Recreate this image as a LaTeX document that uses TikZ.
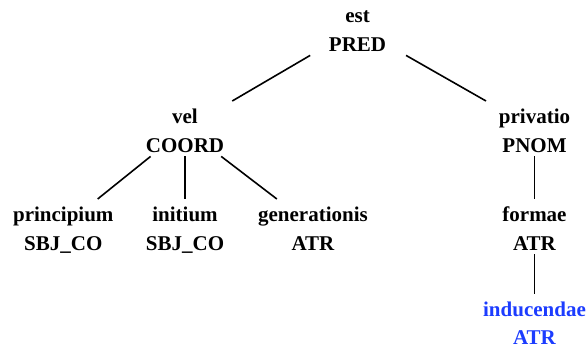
\documentclass[tikz,border=0pt]{standalone}
\usepackage{fontspec}
\setmainfont{Liberation Serif}
\definecolor{hiblue}{RGB}{28,60,255}
\newcommand{\twoline}[2]{\rule{0pt}{22pt}#1\\#2\rule[-4pt]{0pt}{4pt}}
\newcommand{\twolinelast}[2]{\rule{0pt}{22pt}#1\\#2}
\begin{document}
\begin{tikzpicture}[x=1pt,y=-1pt,
  tnode/.style={anchor=north,inner sep=0pt,minimum width=130pt,align=center,
    font=\fontsize{21}{29}\selectfont\bfseries},
  lastnode/.style={tnode,font=\fontsize{21}{28}\selectfont\bfseries},
  edge/.style={draw=black,line width=1.6pt}]
\useasboundingbox (0,0) rectangle (587,349);
\node[tnode] (est) at (357.5,0) {\twoline{est}{PRED}};
\node[tnode] (vel) at (185,101) {\twoline{vel}{COORD}};
\node[tnode] (privatio) at (534.5,101) {\twoline{privatio}{PNOM}};
\node[tnode] (principium) at (63.3,199) {\twoline{principium}{SBJ\_CO}};
\node[tnode] (initium) at (185,199) {\twoline{initium}{SBJ\_CO}};
\node[tnode] (generationis) at (313,199) {\twoline{generationis}{ATR}};
\node[tnode] (formae) at (534.5,199) {\twoline{formae}{ATR}};
\node[lastnode,text=hiblue] (inducendae) at (534.5,294) {\twolinelast{inducendae}{ATR}};
\draw[edge] (est) -- (vel);
\draw[edge] (est) -- (privatio);
\draw[edge] (vel) -- (principium);
\draw[edge] (vel) -- (initium);
\draw[edge] (vel) -- (generationis);
\draw[edge] (privatio) -- (formae);
\draw[edge] (formae) -- (inducendae);
\end{tikzpicture}
\end{document}
